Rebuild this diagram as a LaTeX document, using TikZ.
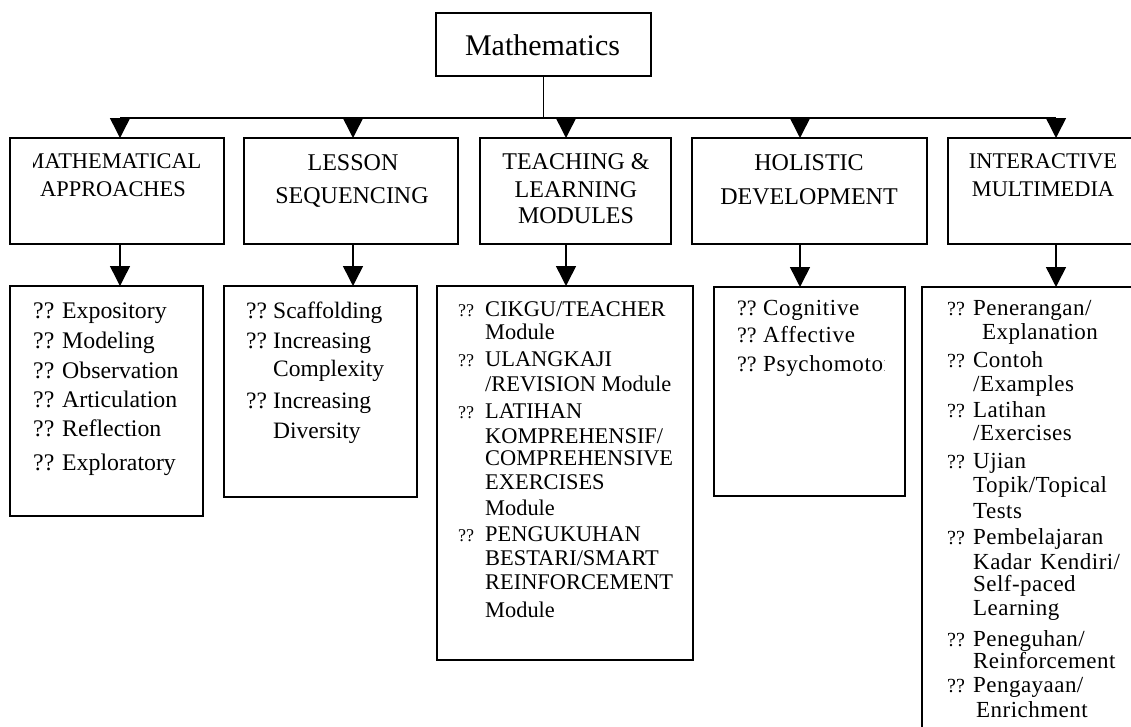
\documentclass[tikz,border=0pt]{standalone}
\usepackage{fontspec}
\setmainfont{Liberation Serif}
\usetikzlibrary{arrows.meta}
\newcommand\fsz[1]{\fontsize{#1}{#1}\selectfont}
\tikzset{
  box/.style={draw, line width=1.5pt, inner sep=0pt, outer sep=0pt, minimum height=#1},
  conn/.style={line width=1.5pt},
  arr/.style={line width=1.5pt, -{Triangle[length=20pt,width=20pt]}},
  head/.style={anchor=base, inner sep=0pt, font=\fsz{#1}},
  itm/.style={anchor=base west, inner sep=0pt, font=\fsz{#1}},
}
\begin{document}
\begin{tikzpicture}[x=1pt,y=-1pt]
\clip (0,0) rectangle (1131,726);
\fill[white] (0,0) rectangle (1131,726);

% top node
\node[box=63pt, minimum width=215pt] (top) at (543.5,44.5) {};
\node[head=30] (toptxt) at (542.5,55) {Mathematics};

% level 1 boxes
\node[box=106pt, minimum width=214pt] (ma) at (117,191) {};
\node[box=106pt, minimum width=214pt] (ls) at (351,191) {};
\node[box=106pt, minimum width=191pt] (tl) at (575.5,191) {};
\node[box=106pt, minimum width=235pt] (hd) at (809.5,191) {};
\node[box=106pt, minimum width=218pt] (im) at (1057,191) {};

\begin{scope}
  \clip (33,140) rectangle (222,242);
  \node[head=22.4] (ma-h1) at (113,168) {MATHEMATICAL};
\end{scope}
\node[head=22.4] (ma-h2) at (113,196) {APPROACHES};
\node[head=24] (ls-h1) at (353,170) {LESSON};
\node[head=24] (ls-h2) at (352,203) {SEQUENCING};
\node[head=24] (tl-h1) at (576,169) {TEACHING \&};
\node[head=24] (tl-h2) at (576,197) {LEARNING};
\node[head=24] (tl-h3) at (576,223) {MODULES};
\node[head=24] (hd-h1) at (809,170) {HOLISTIC};
\node[head=24] (hd-h2) at (809,204) {DEVELOPMENT};
\node[head=22.4] (im-h1) at (1043,168) {INTERACTIVE};
\node[head=22.4] (im-h2) at (1043,196) {MULTIMEDIA};

% level 2 boxes
\node[box=230pt, minimum width=193pt] (ma2) at (106.5,401) {};
\node[box=211pt, minimum width=193pt] (ls2) at (320.5,391.5) {};
\node[box=374pt, minimum width=256pt] (tl2) at (565,473) {};
\node[box=209pt, minimum width=191pt] (hd2) at (809.5,391.5) {};
\node[box=473pt, minimum width=238pt] (im2) at (1041,523.5) {};

% connectors
\coordinate (cma) at (120,118);
\coordinate (cls) at (353,118);
\coordinate (ctl) at (566,118);
\coordinate (chd) at (800,118);
\coordinate (cim) at (1056,118);
\draw[conn] (top.south) -- (top.south |- cma);
\draw[conn] (cma) -- (cim);
\foreach \c/\a/\b in {cma/ma/ma2, cls/ls/ls2, ctl/tl/tl2, chd/hd/hd2, cim/im/im2}{
  \draw[arr] (\c) -- (\c |- \a.north);
  \draw[arr] (\c |- \a.south) -- (\c |- \b.north);
}

% MA items
\foreach \y/\t [count=\i] in {318/Expository, 348/Modeling, 378/Observation, 407/Articulation, 436/Reflection, 470/Exploratory}{
  \node[itm=23.8] (ma-q\i) at (33,\y) {??};
  \node[itm=23.8] (ma-t\i) at (62,\y) {\t};
}
% LS items
\foreach \y [count=\i] in {318,348,408}{
  \node[itm=23.5] (ls-q\i) at (246,\y) {??};
}
\foreach \y/\t [count=\i] in {318/Scaffolding, 348/Increasing, 376/Complexity, 408/Increasing, 438/Diversity}{
  \node[itm=23.5] (ls-t\i) at (273,\y) {\t};
}
% TL items
\foreach \y [count=\i] in {316,366,418,541}{
  \node[itm=18] (tl-q\i) at (458,\y) {??};
}
\foreach \y/\t [count=\i] in {316/{CIKGU/TEACHER}, 339/Module, 366/ULANGKAJI, 391/{/REVISION Module}, 418/LATIHAN, 443/{KOMPREHENSIF/}, 465/COMPREHENSIVE, 489/EXERCISES, 515/Module, 541/PENGUKUHAN, 565/{BESTARI/SMART}, 589/REINFORCEMENT, 617/Module}{
  \node[itm=22.4] (tl-t\i) at (485,\y) {\t};
}
% HD items
\begin{scope}
  \clip (716,290) rectangle (884,480);
  \foreach \y/\t [count=\i] in {315/Cognitive, 342/Affective, 371/Psychomotor}{
    \node[itm=22] (hd-q\i) at (737,\y) {??};
    \node[itm=23] (hd-t\i) at (763,\y) {\addfontfeature{LetterSpace=3}\t};
  }
\end{scope}
% IM items
\foreach \y [count=\i] in {315,367,417,468,544,646,692}{
  \node[itm=20] (im-q\i) at (947,\y) {??};
}
\foreach \x/\y/\t [count=\i] in {973/315/{Penerangan/}, 982/339/Explanation, 973/367/Contoh, 973/391/{/Examples}, 973/417/Latihan, 973/440/{/Exercises}, 973/468/Ujian, 973/492/{Topik/Topical}, 973/518/Tests, 973/544/Pembelajaran, 973/569/{Kadar\hspace{9pt}Kendiri/}, 973/591/Self-paced, 973/615/Learning, 973/646/{Peneguhan/}, 973/668/Reinforcement, 973/692/{Pengayaan/}, 976/717/Enrichment}{
  \node[itm=23] (im-t\i) at (\x,\y) {\addfontfeature{LetterSpace=2}\t};
}
\end{tikzpicture}
\end{document}
